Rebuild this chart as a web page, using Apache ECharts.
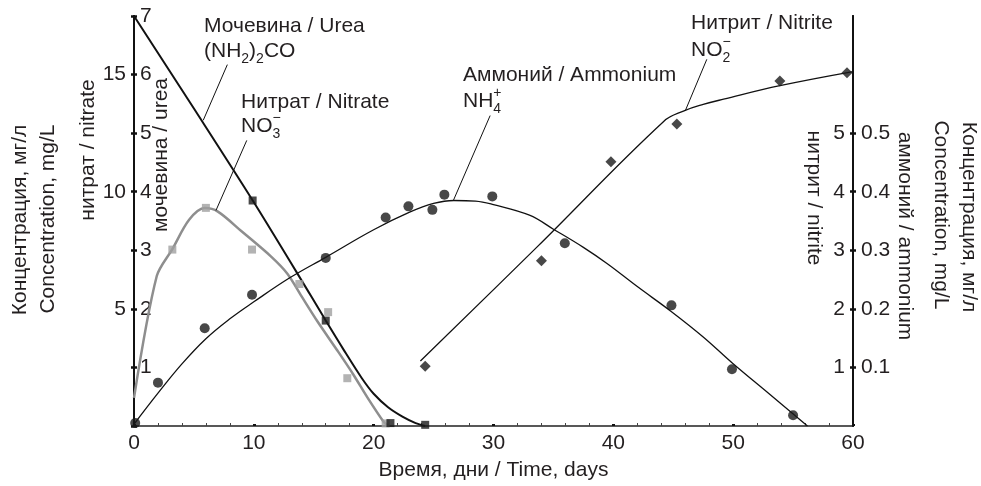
<!DOCTYPE html>
<html><head><meta charset="utf-8">
<script src="https://cdn.jsdelivr.net/npm/echarts@6/dist/echarts.min.js"></script>
<style>html,body{margin:0;padding:0;background:#fff}#c{width:981px;height:486px}</style>
</head><body><div id="c"></div>
<script>
// ---- tick labels ----
const xTicks = [0, 10, 20, 30, 40, 50, 60];
const nitrateTicks = [5, 10, 15];
const ureaTicks = [1, 2, 3, 4, 5, 6, 7];
const nitriteTicks = [1, 2, 3, 4, 5];
const ammoniumTicks = [0.1, 0.2, 0.3, 0.4, 0.5];

// ---- measured points (days, value) ----
const ureaDays = [9.9, 16.0, 21.4, 24.3];
const ureaVals = [3.85, 1.80, 0.05, 0.02];
const nitrateDays = [3.2, 6.0, 9.85, 13.8, 16.2, 17.8, 21.0];
const nitrateVals = [7.53, 9.31, 7.53, 6.06, 4.86, 2.04, 0.11];
const ammoniumDays = [0.1, 2.0, 5.9, 9.85, 16.0, 21.0, 22.9, 24.9, 25.9, 29.9, 35.95, 44.85, 49.9, 55.0];
const ammoniumVals = [0.005, 0.074, 0.167, 0.224, 0.287, 0.356, 0.375, 0.369, 0.395, 0.392, 0.312, 0.206, 0.097, 0.0185];
const nitriteDays = [24.3, 34.0, 39.8, 45.3, 53.9, 59.5];
const nitriteVals = [1.02, 2.82, 4.51, 5.155, 5.89, 6.03];

// ---- fitted curves ----
const ureaFitDays = [0, 5, 10, 14.8, 16, 17.5, 19, 20, 21.2, 22.4, 23.5, 24.3];
const ureaFitVals = [7, 5.42, 3.82, 2.21, 1.80, 1.3, 0.82, 0.55, 0.32, 0.16, 0.05, 0];
const nitrateFitDays = [0, 1.9, 3.2, 4.6, 5.9, 7.0, 9.0, 11.4, 12.8, 14.0, 15.3, 17, 18.3, 19.5, 20.8, 21.2];
const nitrateFitVals = [1.2, 6.4, 7.55, 8.8, 9.3, 9.15, 8.3, 7.25, 6.5, 5.52, 4.47, 3.2, 2.2, 1.2, 0.2, 0];
const ammoniumFitDays = [0, 2, 4, 6, 8, 10, 13, 16, 20, 23, 25, 26.7, 28.5, 30, 33, 35, 37.5, 39.5, 42, 44.8, 47.5, 49.9, 53, 56.2];
const ammoniumFitVals = [0.003, 0.056, 0.106, 0.149, 0.183, 0.212, 0.253, 0.288, 0.335, 0.365, 0.38, 0.385, 0.384, 0.378, 0.36, 0.336, 0.305, 0.277, 0.238, 0.196, 0.152, 0.108, 0.055, 0];
const nitriteFitDays = [23.9, 33.6, 44.2, 45.9, 47.5, 49.2, 53.9, 60];
const nitriteFitVals = [1.11, 3.05, 5.2, 5.38, 5.49, 5.58, 5.81, 6.05];

// ---- leader lines for annotations (data units of each series' axis) ----
const ureaLeader = [[7.79, 6.17], [5.78, 5.22]];
const nitrateLeader = [[9.41, 12.19], [6.84, 9.2]];
const ammoniumLeader = [[29.72, 0.53], [26.65, 0.385]];
const nitriteLeader = [[47.8, 6.26], [46.0, 5.38]];

const FONT = '"Liberation Sans", Arial, Helvetica, sans-serif';
const TXT = '#231f20';
const BLK = '#111111';
const GRAY_LINE = '#8e8e8e';
const GRAY_PT = '#a0a0a0';

const zip = (a, b) => a.map((v, i) => [v, b[i]]);
const cv = document.createElement('canvas').getContext('2d');
function measure(t, size) { cv.font = size + 'px ' + FONT; return cv.measureText(t).width; }

function txt(x, y, text, size, opts) {
  opts = opts || {};
  return {
    type: 'text', x: x, y: y, rotation: opts.rot || 0, silent: true,
    style: {
      text: text, fontSize: size, fontFamily: FONT, fill: TXT,
      textAlign: opts.align || 'left', align: opts.align || 'left',
      textVerticalAlign: 'middle', verticalAlign: 'middle'
    }
  };
}
// baseline-based formula with sub/superscripts
function formula(x0, base, segs, size) {
  const els = []; let x = x0;
  segs.forEach(s => {
    let fs = size, dy = 0;
    if (s.k === 'sub') { fs = Math.round(size * 0.68); dy = 6; }
    if (s.k === 'sup') { fs = Math.round(size * 0.68); dy = -10; }
    els.push(txt(x, base + dy - 0.34 * fs, s.t, fs));
    if (!s.stack) x += measure(s.t, fs);
  });
  return els;
}

const AF = 21;
let graphics = [];
graphics.push(txt(204, 33 - 0.34 * AF, 'Мочевина / Urea', AF));
graphics = graphics.concat(formula(204, 58, [{t: '(NH'}, {t: '2', k: 'sub'}, {t: ')'}, {t: '2', k: 'sub'}, {t: 'CO'}], AF));
graphics.push(txt(241, 109 - 0.34 * AF, 'Нитрат / Nitrate', AF));
graphics = graphics.concat(formula(241, 133, [{t: 'NO'}, {t: '3', k: 'sub', stack: true}, {t: '−', k: 'sup'}], AF));
graphics.push(txt(463, 82 - 0.34 * AF, 'Аммоний / Ammonium', AF));
graphics = graphics.concat(formula(463, 108, [{t: 'NH'}, {t: '4', k: 'sub', stack: true}, {t: '+', k: 'sup'}], AF));
graphics.push(txt(691, 30 - 0.34 * AF, 'Нитрит / Nitrite', AF));
graphics = graphics.concat(formula(691, 57, [{t: 'NO'}, {t: '2', k: 'sub', stack: true}, {t: '−', k: 'sup'}], AF));

// axis titles
const TF = 21;
graphics.push(txt(20, 220, 'Концентрация, мг/л', TF, {rot: Math.PI / 2, align: 'center'}));
graphics.push(txt(48, 219, 'Concentration, mg/L', TF, {rot: Math.PI / 2, align: 'center'}));
graphics.push(txt(88, 150, 'нитрат / nitrate', TF, {rot: Math.PI / 2, align: 'center'}));
graphics.push(txt(161, 155, 'мочевина / urea', TF, {rot: Math.PI / 2, align: 'center'}));
graphics.push(txt(814, 198, 'нитрит / nitrite', TF, {rot: -Math.PI / 2, align: 'center'}));
graphics.push(txt(905, 236, 'аммоний / ammonium', TF, {rot: -Math.PI / 2, align: 'center'}));
graphics.push(txt(941, 215, 'Concentration, mg/L', TF, {rot: -Math.PI / 2, align: 'center'}));
graphics.push(txt(969, 217, 'Концентрация, мг/л', TF, {rot: -Math.PI / 2, align: 'center'}));

const lbl = {fontSize: 21, color: TXT, fontFamily: FONT};
function yAx(o) {
  return Object.assign({
    type: 'value', splitLine: {show: false},
    axisLine: {show: true, onZero: false, lineStyle: {color: BLK, width: 2}}
  }, o);
}
function leader(pts) {
  return {
    silent: true, symbol: 'none', animation: false,
    label: {show: false},
    lineStyle: {color: BLK, width: 1, type: 'solid'},
    data: [[{coord: pts[0]}, {coord: pts[1]}]]
  };
}

const chart = echarts.init(document.getElementById('c'), null, {renderer: 'canvas'});
chart.setOption({
  animation: false,
  backgroundColor: '#fff',
  textStyle: {fontFamily: FONT},
  grid: {left: 134, right: 128, top: 16, bottom: 55, containLabel: false},
  xAxis: {
    type: 'value', min: 0, max: 60, interval: 10,
    axisLine: {lineStyle: {color: '#222', width: 1.5}},
    axisTick: {inside: true, length: 2, lineStyle: {color: BLK, width: 3}},
    minorTick: {show: true, splitNumber: 5, length: 3, lineStyle: {color: '#444', width: 1}},
    splitLine: {show: false},
    axisLabel: Object.assign({margin: 7, customValues: xTicks}, lbl),
    name: 'Время, дни / Time, days', nameLocation: 'middle', nameGap: 34,
    nameTextStyle: {fontSize: 21, color: TXT, fontFamily: FONT}
  },
  yAxis: [
    yAx({position: 'left', min: 0, max: 17.5, interval: 2.5,
      axisTick: {show: true, length: 3, lineStyle: {color: BLK, width: 2.5}},
      axisLabel: Object.assign({margin: 8, customValues: nitrateTicks}, lbl)}),
    yAx({position: 'left', min: 0, max: 7, interval: 1,
      axisTick: {show: true, inside: true, length: 3, lineStyle: {color: BLK, width: 2.5}},
      axisLabel: Object.assign({inside: true, margin: 6, customValues: ureaTicks}, lbl)}),
    yAx({position: 'right', min: 0, max: 7, interval: 1,
      axisTick: {show: true, inside: true, length: 3, customValues: nitriteTicks, lineStyle: {color: BLK, width: 2.5}},
      axisLabel: Object.assign({inside: true, margin: 8, customValues: nitriteTicks}, lbl)}),
    yAx({position: 'right', min: 0, max: 0.7, interval: 0.1,
      axisTick: {show: true, length: 3, customValues: ammoniumTicks, lineStyle: {color: BLK, width: 2.5}},
      axisLabel: Object.assign({margin: 8, customValues: ammoniumTicks}, lbl)})
  ],
  series: [
    {type: 'line', name: 'nitrateFit', yAxisIndex: 0, data: zip(nitrateFitDays, nitrateFitVals),
      smooth: 0.3, showSymbol: false, lineStyle: {color: GRAY_LINE, width: 2.5}, z: 2,
      markLine: leader(nitrateLeader)},
    {type: 'line', name: 'ureaFit', yAxisIndex: 1, data: zip(ureaFitDays, ureaFitVals),
      smooth: 0.3, showSymbol: false, lineStyle: {color: BLK, width: 2}, z: 3,
      markLine: leader(ureaLeader)},
    {type: 'line', name: 'ammoniumFit', yAxisIndex: 3, data: zip(ammoniumFitDays, ammoniumFitVals),
      smooth: 0.4, showSymbol: false, lineStyle: {color: BLK, width: 1.3}, z: 3,
      markLine: leader(ammoniumLeader)},
    {type: 'line', name: 'nitriteFit', yAxisIndex: 2, data: zip(nitriteFitDays, nitriteFitVals),
      smooth: 0.4, showSymbol: false, lineStyle: {color: BLK, width: 1.3}, z: 3,
      markLine: leader(nitriteLeader)},
    {type: 'scatter', name: 'nitrate', yAxisIndex: 0, data: zip(nitrateDays, nitrateVals),
      symbol: 'rect', symbolSize: 8, itemStyle: {color: GRAY_PT}, z: 5},
    {type: 'scatter', name: 'urea', yAxisIndex: 1, data: zip(ureaDays, ureaVals),
      symbol: 'rect', symbolSize: 8, itemStyle: {color: '#1a1a1a'}, z: 6},
    {type: 'scatter', name: 'ammonium', yAxisIndex: 3, data: zip(ammoniumDays, ammoniumVals),
      symbol: 'circle', symbolSize: 10, itemStyle: {color: '#1a1a1a'}, z: 6},
    {type: 'scatter', name: 'nitrite', yAxisIndex: 2, data: zip(nitriteDays, nitriteVals),
      symbol: 'diamond', symbolSize: 11, itemStyle: {color: '#1a1a1a'}, z: 6}
  ],
  graphic: graphics
});
</script></body></html>
